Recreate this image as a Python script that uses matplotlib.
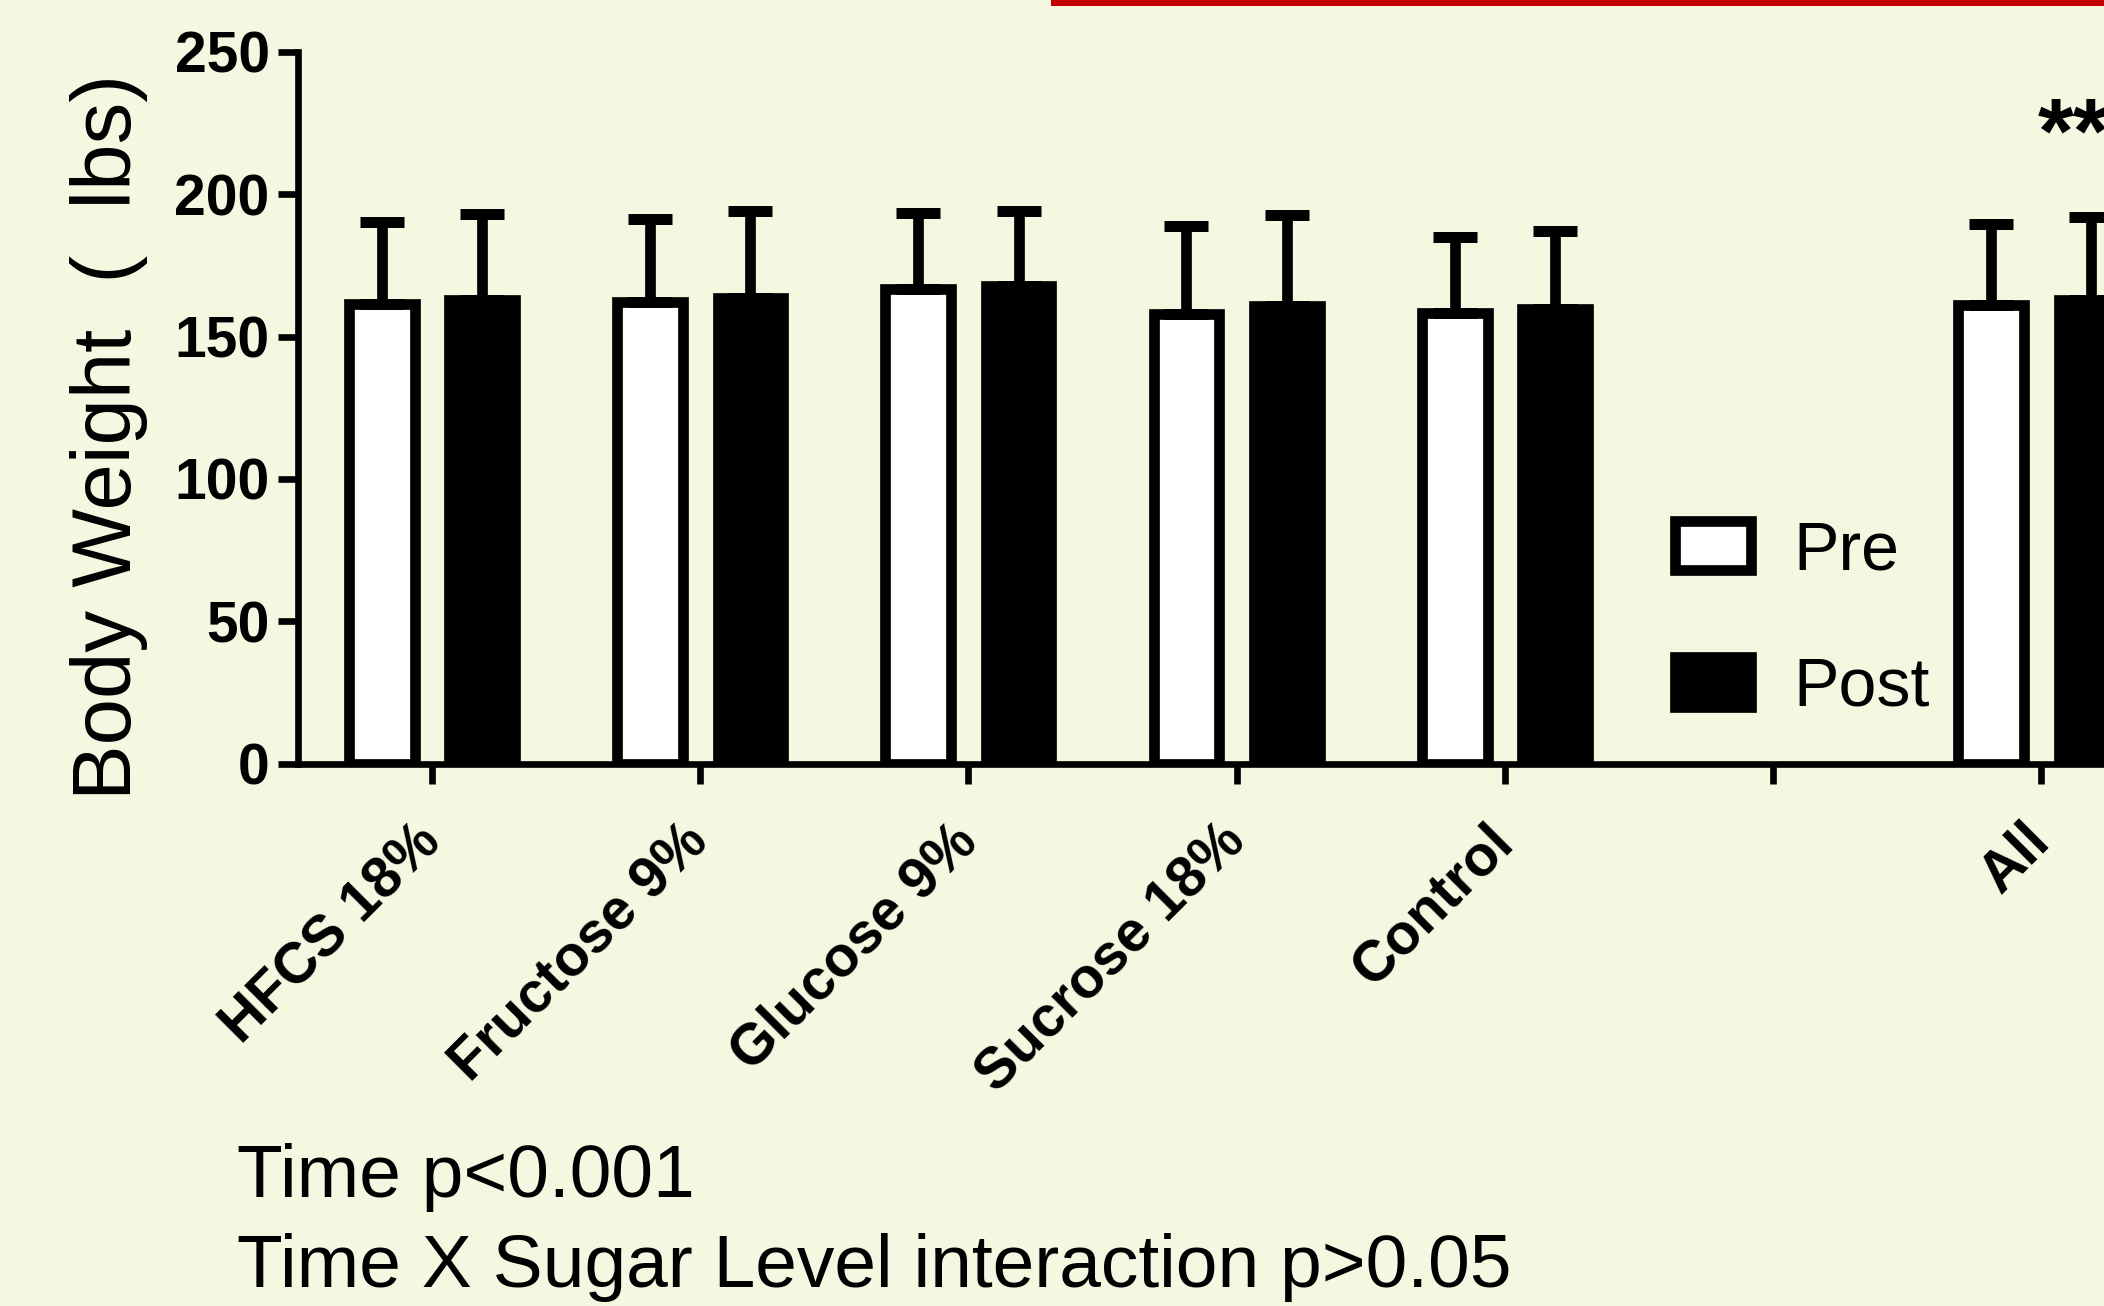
import matplotlib.pyplot as plt
import matplotlib.transforms as mtransforms
from matplotlib.patches import Rectangle
import numpy as np

plt.rcParams['font.family'] = ['Liberation Sans', 'DejaVu Sans']

# Body weight (lbs), mean and SD per sugar group
categories = ['HFCS 18%', 'Fructose 9%', 'Glucose 9%', 'Sucrose 18%', 'Control', '', 'All']
pre_mean = [161.6, 162.3, 166.8, 157.8, 158.3, np.nan, 161.1]
pre_sd = [28.8, 29.1, 26.7, 31.2, 26.7, np.nan, 28.5]
post_mean = [163.0, 163.5, 167.6, 160.9, 159.7, np.nan, 163.0]
post_sd = [30.1, 30.6, 26.5, 31.9, 27.2, np.nan, 29.1]
y_ticks = [0, 50, 100, 150, 200, 250]
stats_lines = ['Time p<0.001', 'Time X Sugar Level interaction p>0.05']
signif = '***'

W, H = 2104, 1306
bg = '#F5F7E1'

fig = plt.figure(figsize=(W / 100, H / 100), dpi=100, facecolor=bg)
ax = fig.add_axes([298 / W, 1 - 763.7 / H, 1 - 298 / W, (763.7 - 51.8) / H])
ax.set_facecolor('none')

x = np.arange(len(categories))
pre_mean = np.array(pre_mean)
post_mean = np.array(post_mean)
has = ~np.isnan(pre_mean)
n = has.sum()
width = 0.245
off = 0.187
err_kw = dict(elinewidth=7.7, capthick=7.9, ecolor='black')

pre_bars = ax.bar(x[has] - off, pre_mean[has], width, color='white', edgecolor='black',
                  linewidth=7.7, label='Pre',
                  yerr=[np.zeros(n), np.array(pre_sd)[has]], capsize=15.8, error_kw=err_kw)
post_bars = ax.bar(x[has] + off, post_mean[has], width, color='black', edgecolor='black',
                   linewidth=7.7, label='Post',
                   yerr=[np.zeros(n), np.array(post_sd)[has]], capsize=15.8, error_kw=err_kw)

ax.text(x[-1] + off, 211, signif, fontsize=66, fontweight='bold', ha='center', va='baseline')

ax.set_xlim(-0.4996, 6.234)
ax.set_ylim(0, 250)
ax.set_yticks(y_ticks)
ax.set_yticklabels([str(v) for v in y_ticks], fontsize=41, fontweight='bold')
ax.set_xticks(x)
ax.set_xticklabels(categories, fontsize=41, fontweight='bold', rotation=45,
                   ha='right', va='top', rotation_mode='anchor')

for s in ['top', 'right']:
    ax.spines[s].set_visible(False)
for s in ['left', 'bottom']:
    ax.spines[s].set_linewidth(4.8)
ax.tick_params(axis='both', direction='out', length=14.4, width=4.8, color='black')
ax.tick_params(axis='y', pad=6)
ax.tick_params(axis='x', pad=22)
shift = mtransforms.ScaledTranslation(-19 / 100, 0, fig.dpi_scale_trans)
for lab in ax.get_xticklabels():
    lab.set_transform(lab.get_transform() + shift)

fig.text(108.7 / W, 1 - 436.7 / H, 'Body Weight  (  lbs)', fontsize=60, rotation=90,
         ha='center', va='center')

ax.legend(handles=[pre_bars, post_bars], loc='upper left',
          bbox_to_anchor=(1674.5 / W, 1 - 519.6 / H), bbox_transform=fig.transFigure,
          frameon=False, fontsize=49, handlelength=1.12, handleheight=0.735,
          handletextpad=0.625, labelspacing=1.06, borderpad=0, borderaxespad=0)

fig.text(237 / W, 1 - 1197.5 / H, stats_lines[0], fontsize=54, va='baseline')
fig.text(237 / W, 1 - 1287 / H, stats_lines[1], fontsize=54, va='baseline')

# red rule at the top edge
fig.add_artist(Rectangle((1051 / W, 1 - 6 / H), 1 - 1051 / W, 6 / H,
                         transform=fig.transFigure, color='#C00000', linewidth=0))

fig.savefig('out.png', dpi=100, facecolor=bg)
